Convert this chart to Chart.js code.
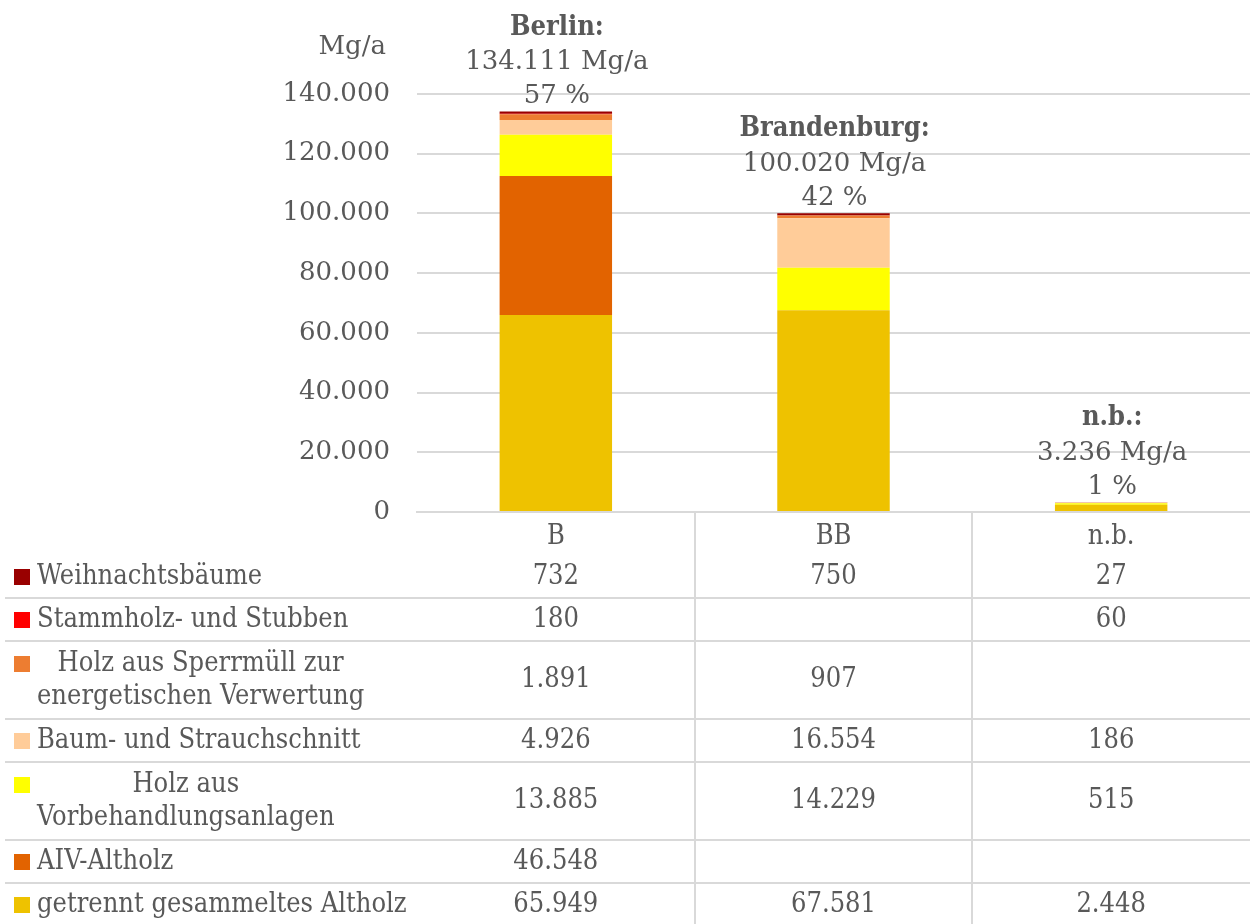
<!DOCTYPE html>
<html>
<head>
<meta charset="utf-8">
<script src="https://cdn.jsdelivr.net/npm/chart.js@4.4.1/dist/chart.umd.min.js"></script>
<style>
  html, body { margin: 0; padding: 0; background: #ffffff; }
  #wrap { width: 1250px; height: 924px; position: relative; }
</style>
</head>
<body>
<div id="wrap"><canvas id="c" width="1250" height="924"></canvas></div>
<script>
// ---- data ----
const categories = ['B', 'BB', 'n.b.'];
const regionNames = ['Berlin:', 'Brandenburg:', 'n.b.:'];
const totals = [134111, 100020, 3236];
const shares = [57, 42, 1];

const weihnachtsbaeume = [732, 750, 27];
const stammholz = [180, null, 60];
const sperrmuell = [1891, 907, null];
const baumStrauch = [4926, 16554, 186];
const vorbehandlung = [13885, 14229, 515];
const aivAltholz = [46548, null, null];
const getrennt = [65949, 67581, 2448];

const yMax = 140000;
const yStep = 20000;
const yUnit = 'Mg/a';

// ---- styling ----
const FONT = '"DejaVu Serif Condensed", "DejaVu Serif", "Liberation Serif", serif';
const FONT_AX = '"DejaVu Serif", "Liberation Serif", serif';
const FS = 27;
const FS_AX = 26;
const TXT = '#595959';
const GRID = '#D9D9D9';

function de(n) { return String(n).replace(/\B(?=(\d{3})+(?!\d))/g, '.'); }

// series, listed in table order (top row first); stacking order is the reverse
const series = [
  { label: ['Weihnachtsbäume'], data: weihnachtsbaeume, color: '#990000' },
  { label: ['Stammholz- und Stubben'], data: stammholz, color: '#FF0000' },
  { label: ['Holz aus Sperrmüll zur', 'energetischen Verwertung'], data: sperrmuell, color: '#ED7D31' },
  { label: ['Baum- und Strauchschnitt'], data: baumStrauch, color: '#FFCC99' },
  { label: ['Holz aus', 'Vorbehandlungsanlagen'], data: vorbehandlung, color: '#FFFF00' },
  { label: ['AIV-Altholz'], data: aivAltholz, color: '#E26300' },
  { label: ['getrennt gesammeltes Altholz'], data: getrennt, color: '#EEC200' }
];

const datasets = series.slice().reverse().map(s => ({
  label: s.label.join(' '),
  data: s.data,
  backgroundColor: s.color,
  borderWidth: 0,
  barPercentage: 0.405,
  categoryPercentage: 1.0
}));

const tablePlugin = {
  id: 'tablePlugin',
  afterDraw(chart) {
    const ctx = chart.ctx;
    const xs = chart.scales.x;
    const ca = chart.chartArea;
    const n = categories.length;
    const colW = (ca.right - ca.left) / n;
    const headerBottom = ca.bottom + 43;
    const singleH = 43, extraLine = 35;
    ctx.save();
    ctx.font = FS + 'px ' + FONT;
    ctx.fillStyle = TXT;
    ctx.textBaseline = 'middle';

    // row geometry
    let y = headerBottom;
    const rows = series.map(s => {
      const h = singleH + (s.label.length - 1) * extraLine;
      const r = { top: y, h: h, s: s };
      y += h;
      return r;
    });

    // grid lines
    ctx.strokeStyle = GRID;
    ctx.lineWidth = 2;
    rows.forEach((r, i) => {
      if (i === 0) return;
      ctx.beginPath();
      ctx.moveTo(5, r.top);
      ctx.lineTo(1250, r.top);
      ctx.stroke();
    });
    for (let k = 1; k < n; k++) {
      const x = Math.round(ca.left + colW * k);
      ctx.beginPath();
      ctx.moveTo(x, ca.bottom);
      ctx.lineTo(x, 924);
      ctx.stroke();
    }

    // row labels, legend keys and values
    rows.forEach(r => {
      const s = r.s;
      const lines = s.label;
      const lineGap = 33;
      const firstY = r.top + r.h / 2 - (lines.length - 1) * lineGap / 2;
      ctx.fillStyle = s.color;
      ctx.fillRect(14, Math.round(firstY - 8), 16, 16);
      ctx.fillStyle = TXT;
      if (lines.length === 1) {
        ctx.textAlign = 'left';
        ctx.fillText(lines[0], 37, firstY);
      } else {
        const maxW = Math.max(...lines.map(l => ctx.measureText(l).width));
        ctx.textAlign = 'center';
        lines.forEach((l, j) => ctx.fillText(l, 37 + maxW / 2, firstY + j * lineGap));
      }
      ctx.textAlign = 'center';
      s.data.forEach((v, i) => {
        if (v === null || v === undefined) return;
        ctx.fillText(de(v), xs.getPixelForValue(i), r.top + r.h / 2);
      });
    });

    // unit label above y axis
    ctx.textAlign = 'right';
    ctx.font = FS_AX + 'px ' + FONT_AX;
    ctx.fillText(yUnit, 386, 47);

    // bar total annotations
    const ys = chart.scales.y;
    categories.forEach((c, i) => {
      const x = xs.getPixelForValue(i) + 1;
      const top = ys.getPixelForValue(totals[i]);
      ctx.textAlign = 'center';
      ctx.fillStyle = TXT;
      ctx.font = FS_AX + 'px ' + FONT_AX;
      ctx.fillText(shares[i] + ' %', x, top - 15);
      ctx.fillText(de(totals[i]) + ' Mg/a', x, top - 49);
      ctx.font = 'bold ' + FS + 'px ' + FONT;
      ctx.fillText(regionNames[i], x, top - 84);
    });
    ctx.restore();
  }
};

new Chart(document.getElementById('c'), {
  type: 'bar',
  data: { labels: categories, datasets: datasets },
  options: {
    responsive: false,
    animation: false,
    layout: { padding: { top: 94, left: 0, right: 0, bottom: 0 }, autoPadding: false },
    plugins: { legend: { display: false }, tooltip: { enabled: false } },
    scales: {
      x: {
        stacked: true,
        grid: { display: false, drawTicks: false },
        border: { display: true, color: GRID, width: 2 },
        ticks: { color: TXT, font: { family: FONT, size: FS }, padding: 9, maxRotation: 0 },
        afterFit(s) { s.height = 412; }
      },
      y: {
        stacked: true,
        min: 0,
        max: yMax,
        grid: { color: GRID, lineWidth: 2, drawTicks: false },
        border: { display: false },
        ticks: {
          stepSize: yStep,
          color: TXT,
          font: { family: FONT_AX, size: FS_AX },
          padding: 27,
          callback: v => de(v)
        },
        afterFit(s) { s.width = 417; }
      }
    }
  },
  plugins: [tablePlugin]
});
</script>
</body>
</html>
